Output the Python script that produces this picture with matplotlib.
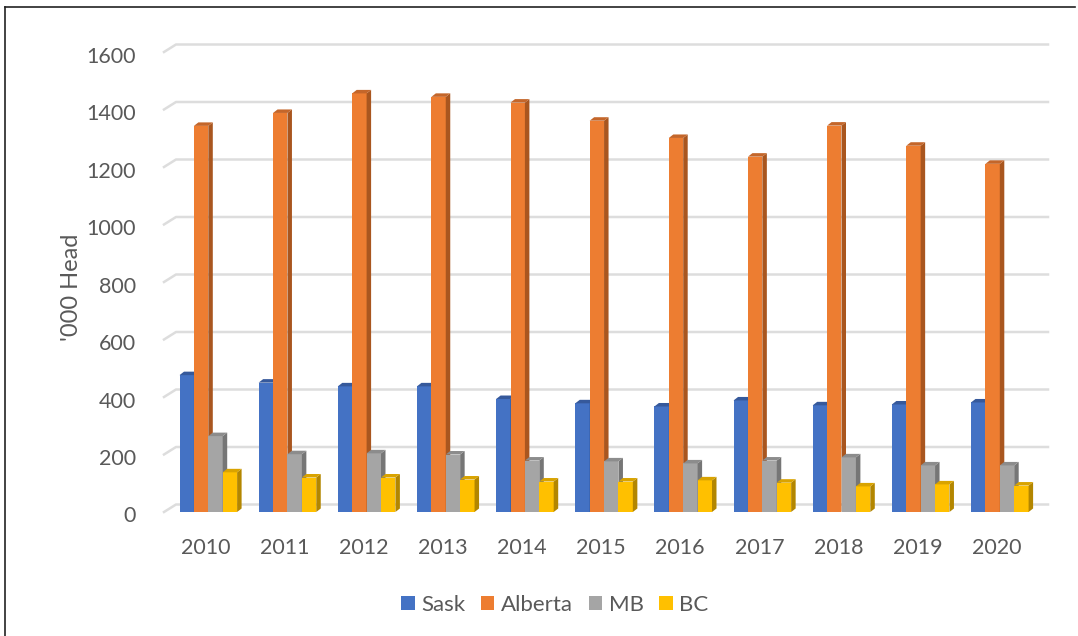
import numpy as np
import matplotlib
matplotlib.use('Agg')
import matplotlib.pyplot as plt
from matplotlib.lines import Line2D
from matplotlib.patches import Polygon
from matplotlib.transforms import ScaledTranslation

# values
years = ['2010', '2011', '2012', '2013', '2014', '2015', '2016', '2017', '2018', '2019', '2020']
sask = [476, 450, 437, 437, 393, 378, 367, 388, 371, 374, 381]
alberta = [1343, 1388, 1456, 1444, 1424, 1361, 1301, 1236, 1344, 1274, 1211]
mb = [264, 201, 204, 200, 179, 176, 169, 179, 190, 162, 162]
bc = [138, 120, 120, 113, 106, 106, 110, 102, 89, 96, 92]
names = ['Sask', 'Alberta', 'MB', 'BC']
yticks = [0, 200, 400, 600, 800, 1000, 1200, 1400, 1600]

front = ['#4472C4', '#ED7D31', '#A5A5A5', '#FFC000']
side = ['#2F5597', '#A9561F', '#767676', '#B38600']
top = ['#36599B', '#C4662A', '#8C8C8C', '#D9A300']

W, H = 1078, 636
plt.rcParams['font.family'] = ['Lato', 'DejaVu Sans']
fig = plt.figure(figsize=(W / 100, H / 100), dpi=100)

# axes box in pixels
left, right, bottom, upper = 164, 1048, 512, 52
ax = fig.add_axes([left / W, 1 - bottom / H, (right - left) / W, (bottom - upper) / H])

spacing = 79.15   # px between groups
x0 = 208.3        # px centre of first group
ax.set_xlim((left - x0) / spacing, (right - x0) / spacing)
ax.set_ylim(0, 1600)
px_x = 1 / spacing
px_y = 1600 / (bottom - upper)

# floor and wall gridlines
wall_dx, wall_dy = 12 * px_x, 7.5 * px_y
xmin, xmax = ax.get_xlim()
for t in yticks:
    ax.plot([xmin, xmin + wall_dx, xmax], [t, t + wall_dy, t + wall_dy], color='#DDDDDD',
            lw=1.8, clip_on=False, zorder=1, solid_joinstyle='round')

# bars with a small 3D depth
bw = 14.4 * px_x
dx, dy = 4.5 * px_x, 3.5 * px_y
x = np.arange(len(years))
handles = []
for j, vals in enumerate([sask, alberta, mb, bc]):
    pos = x + (j - 1.5) * bw
    b = ax.bar(pos, vals, bw, color=front[j], zorder=2 + j, label=names[j])
    handles.append(b)
    for p, v in zip(pos, vals):
        xl, xr = p - bw / 2, p + bw / 2
        ax.add_patch(Polygon([(xr, 0), (xr + dx, dy), (xr + dx, v + dy), (xr, v)],
                             color=side[j], lw=0, zorder=2 + j, clip_on=False))
        ax.add_patch(Polygon([(xl, v), (xl + dx, v + dy), (xr + dx, v + dy), (xr, v)],
                             color=top[j], lw=0, zorder=2 + j, clip_on=False))

for s in ax.spines.values():
    s.set_visible(False)
ax.patch.set_alpha(0)
ax.set_xticks(x - 3 * px_x)
ax.set_xticklabels(years)
ax.set_yticks(yticks)
ax.tick_params(length=0, labelsize=15.5, labelcolor='#595959')
ax.tick_params(axis='x', pad=19)
ax.tick_params(axis='y', pad=20)

# tick labels sit a bit lower than the gridline ends
shift = ScaledTranslation(0, -2.5 / 100, fig.dpi_scale_trans)
for lab in ax.get_yticklabels():
    lab.set_transform(lab.get_transform() + shift)

ax.set_ylabel("'000 Head", fontsize=17, color='#595959')
ax.yaxis.set_label_coords((82 - left) / (right - left), (bottom - 287) / (bottom - upper))

ax.legend(handles=handles, ncol=4, frameon=False, loc='center',
          bbox_to_anchor=((555 - left) / (right - left), (bottom - 605) / (bottom - upper)),
          fontsize=16, labelcolor='#595959', handlelength=0.6, handleheight=0.6,
          handletextpad=0.3, columnspacing=0.7, borderpad=0, borderaxespad=0)

# black frame of the screenshot
fig.add_artist(Line2D([5 / W, 5 / W], [0, 1 - 7 / H], color='#222222', lw=1.2))
fig.add_artist(Line2D([5 / W, 1075 / W], [1 - 7 / H, 1 - 7 / H], color='#222222', lw=1.2))

plt.savefig('out.png', dpi=100)
